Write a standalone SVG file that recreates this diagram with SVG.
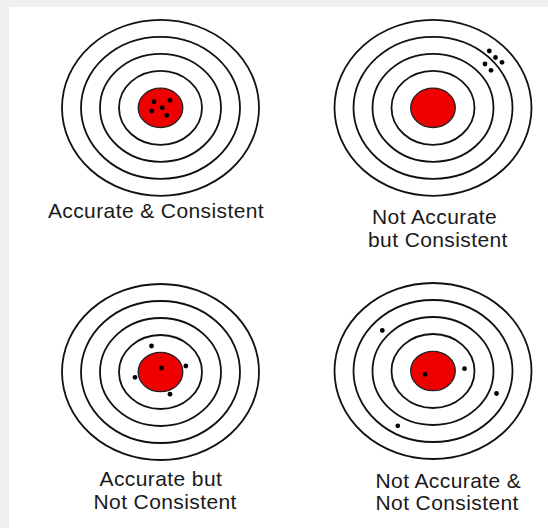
<svg xmlns="http://www.w3.org/2000/svg" xmlns:xlink="http://www.w3.org/1999/xlink" width="548" height="528" viewBox="0 0 548 528">
<style>
.ring{fill:none;stroke:#111;stroke-width:1.8}
.bull{fill:#ee0000;stroke:#222;stroke-width:1.3}
.dot{fill:#000}
.lbl{font-family:"Liberation Sans",Arial,sans-serif;font-size:21px;letter-spacing:0.4px;fill:#1a1a1a}
</style>
<defs>
<g id="rings">
<ellipse class="ring" cx="0" cy="0" rx="98.5" ry="88"/>
<ellipse class="ring" cx="0" cy="0" rx="79.5" ry="71"/>
<ellipse class="ring" cx="0" cy="0" rx="60.5" ry="54"/>
<ellipse class="ring" cx="0" cy="0" rx="41.5" ry="37"/>
<ellipse class="bull" cx="0" cy="0" rx="22.3" ry="19.7"/>
</g>
</defs>
<rect x="0" y="0" width="548" height="528" fill="#efefef"/>
<rect x="9" y="7" width="539" height="521" fill="#ffffff"/>
<g id="connectors"/>
<g id="accurate-consistent">
<use xlink:href="#rings" href="#rings" transform="translate(160.5,107.8)"/>
<circle class="dot" cx="154" cy="101.7" r="2.4"/>
<circle class="dot" cx="170" cy="100.3" r="2.4"/>
<circle class="dot" cx="151.7" cy="111" r="2.4"/>
<circle class="dot" cx="162.3" cy="107.7" r="2.4"/>
<circle class="dot" cx="166.7" cy="115.3" r="2.4"/>
<text class="lbl" x="156" y="217.5" text-anchor="middle">Accurate &amp; Consistent</text>
</g>
<g id="not-accurate-consistent">
<use xlink:href="#rings" href="#rings" transform="translate(433,107.8)"/>
<circle class="dot" cx="489.3" cy="51" r="2.4"/>
<circle class="dot" cx="495.5" cy="57.5" r="2.4"/>
<circle class="dot" cx="502" cy="62.3" r="2.4"/>
<circle class="dot" cx="485" cy="64" r="2.4"/>
<circle class="dot" cx="491" cy="70.3" r="2.4"/>
<text class="lbl" x="372" y="223.5">Not Accurate</text>
<text class="lbl" x="368" y="246.5">but Consistent</text>
</g>
<g id="accurate-not-consistent">
<use xlink:href="#rings" href="#rings" transform="translate(160.5,372)"/>
<circle class="dot" cx="151.5" cy="346" r="2.4"/>
<circle class="dot" cx="161.5" cy="368" r="2.4"/>
<circle class="dot" cx="185.8" cy="366" r="2.4"/>
<circle class="dot" cx="135" cy="377.3" r="2.4"/>
<circle class="dot" cx="170" cy="394.2" r="2.4"/>
<text class="lbl" x="99.5" y="486">Accurate but</text>
<text class="lbl" x="93.5" y="509">Not Consistent</text>
</g>
<g id="not-accurate-not-consistent">
<use xlink:href="#rings" href="#rings" transform="translate(433,371)"/>
<circle class="dot" cx="382.3" cy="330.4" r="2.4"/>
<circle class="dot" cx="425" cy="374.4" r="2.4"/>
<circle class="dot" cx="464.5" cy="368.7" r="2.4"/>
<circle class="dot" cx="496.5" cy="393.5" r="2.4"/>
<circle class="dot" cx="397.8" cy="425.8" r="2.4"/>
<text class="lbl" x="375.5" y="487.5">Not Accurate &amp;</text>
<text class="lbl" x="375.5" y="510">Not Consistent</text>
</g>
</svg>
